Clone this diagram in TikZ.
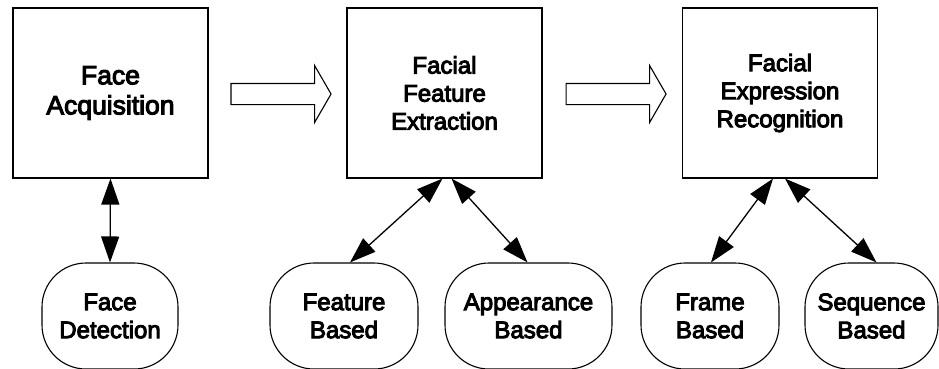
\documentclass[tikz,border=0pt]{standalone}
\usepackage{fontspec}
\newfontfamily\dfont{Liberation Sans}[BoldFont=Liberation Sans,BoldFeatures={FakeBold=4}]
\usetikzlibrary{arrows.meta,shapes.arrows}
\begin{document}
\begin{tikzpicture}[x=1pt,y=-1pt,
  stage/.style={draw,line width=1.1pt,minimum width=195pt,minimum height=170pt,inner sep=0pt,align=center,font=\dfont\bfseries\fontsize{24}{28}\selectfont},
  method/.style={draw,line width=1.1pt,rounded corners=44pt,minimum height=106pt,inner sep=0pt,align=center,font=\dfont\bfseries\fontsize{24}{28}\selectfont},
  dbl/.style={line width=1.3pt,{Triangle[length=26pt,width=18pt]}-{Triangle[length=26pt,width=18pt]}},
  bigarrow/.style={draw,line width=1.1pt,single arrow,minimum height=100pt,inner sep=10pt,single arrow head extend=18pt,single arrow tip angle=120}
]
\useasboundingbox (0,0) rectangle (939,368);
\node[stage,font=\dfont\bfseries\fontsize{26.5}{30}\selectfont] (acq) at (110.5,93) {Face\\Acquisition};
\node[stage] (ext) at (444.5,93) {Facial\\Feature\\Extraction};
\node[stage] (rec) at (780,93) {Facial\\Expression\\Recognition};
\node[bigarrow] (ar1) at (278,94) {};
\node[bigarrow] (ar2) at (613,94) {};
\node[method,minimum width=136pt] (det) at (110,316) {Face\\Detection};
\node[method,minimum width=148pt] (feat) at (344,316) {Feature\\Based};
\node[method,minimum width=167pt] (app) at (528.5,316) {Appearance\\Based};
\node[method,minimum width=138pt] (frame) at (710,316) {Frame\\Based};
\node[method,minimum width=133pt] (seq) at (871.5,316) {Sequence\\Based};
\draw[dbl] (acq.south) -- (det.north);
\draw[dbl] ([xshift=-2pt]ext.south) -- ([xshift=6pt]feat.north);
\draw[dbl] ([xshift=7pt]ext.south) -- ([xshift=-1pt]app.north);
\draw[dbl] ([xshift=-7pt]rec.south) -- ([xshift=1pt]frame.north);
\draw[dbl] ([xshift=5pt]rec.south) -- ([xshift=5pt]seq.north);
\end{tikzpicture}
\end{document}
